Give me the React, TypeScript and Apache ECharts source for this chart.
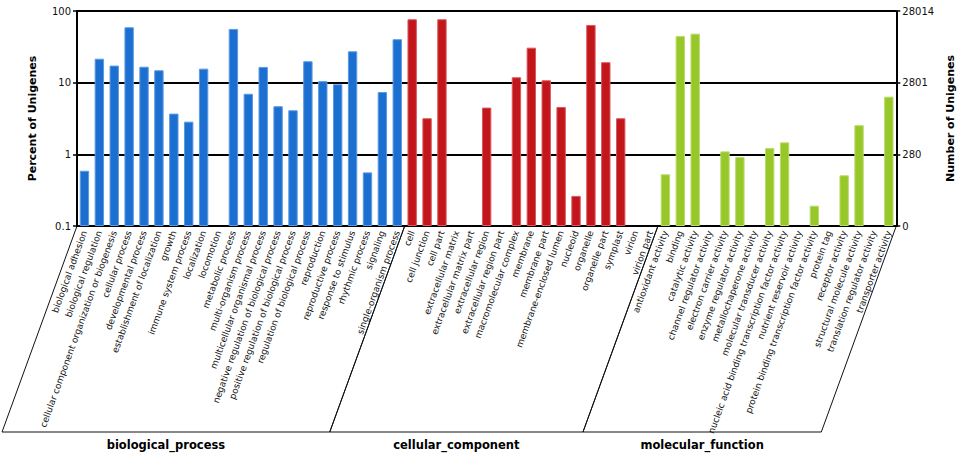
import React, { useEffect, useRef } from "react";
import * as echarts from "echarts";

const bpNames = [
  "biological adhesion",
  "biological regulation",
  "cellular component organization or biogenesis",
  "cellular process",
  "developmental process",
  "establishment of localization",
  "growth",
  "immune system process",
  "localization",
  "locomotion",
  "metabolic process",
  "multi-organism process",
  "multicellular organismal process",
  "negative regulation of biological process",
  "positive regulation of biological process",
  "regulation of biological process",
  "reproduction",
  "reproductive process",
  "response to stimulus",
  "rhythmic process",
  "signaling",
  "single-organism process",
];
const bpValues = [
  0.59, 21.6, 17.3, 59.3, 16.7, 14.9, 3.7, 2.86, 15.7, 0, 56.2, 7.0, 16.6, 4.69,
  4.12, 19.9, 10.5, 9.5, 27.4, 0.56, 7.4, 40.4,
];

const ccNames = [
  "cell",
  "cell junction",
  "cell part",
  "extracellular matrix",
  "extracellular matrix part",
  "extracellular region",
  "extracellular region part",
  "macromolecular complex",
  "membrane",
  "membrane part",
  "membrane-enclosed lumen",
  "nucleoid",
  "organelle",
  "organelle part",
  "symplast",
  "virion",
  "virion part",
];
const ccValues = [
  76.7, 3.19, 76.7, 0, 0, 4.49, 0, 11.9, 30.8, 10.8, 4.58, 0.263, 63.9, 19.3,
  3.19, 0, 0,
];

const mfNames = [
  "antioxidant activity",
  "binding",
  "catalytic activity",
  "channel regulator activity",
  "electron carrier activity",
  "enzyme regulator activity",
  "metallochaperone activity",
  "molecular transducer activity",
  "nucleic acid binding transcription factor activity",
  "nutrient reservoir activity",
  "protein binding transcription factor activity",
  "protein tag",
  "receptor activity",
  "structural molecule activity",
  "translation regulator activity",
  "transporter activity",
];
const mfValues = [
  0.527, 44.9, 48.3, 0, 1.1, 0.92, 0, 1.22, 1.47, 0, 0.192, 0, 0.51, 2.55, 0,
  6.38,
];

const groupNames = ["biological_process", "cellular_component", "molecular_function"];
const groupColors = ["#1a6fd1", "#c3161b", "#98c72a"];
const groupBorders = ["#5d9ae2", "#d85a5e", "#b9dc6c"];

const leftTickLabels = ["0.1", "1", "10", "100"];
const rightTickLabels = ["0", "280", "2801", "28014"];

const FONT = "DejaVu Sans";

export default function App() {
  const ref = useRef<HTMLDivElement>(null);

  useEffect(() => {
    document.body.style.margin = "0";
    const chart = echarts.init(ref.current!, null, { renderer: "svg" });

    const groups = [
      { names: bpNames, values: bpValues },
      { names: ccNames, values: ccValues },
      { names: mfNames, values: mfValues },
    ];
    const categories: string[] = [];
    const data: any[] = [];
    const ranges: [number, number][] = [];
    groups.forEach((g, gi) => {
      const start = categories.length;
      g.names.forEach((n, i) => {
        categories.push(n);
        const v = g.values[i];
        data.push({
          value: v > 0 ? v : "-",
          itemStyle: {
            color: groupColors[gi],
            borderColor: groupBorders[gi],
            borderWidth: 1,
          },
        });
      });
      ranges.push([start, categories.length]);
    });

    const decade = (v: number) => Math.round(Math.log10(v)) + 1;

    const yCommon = {
      type: "log",
      logBase: 10,
      min: 0.1,
      max: 100,
      startValue: 0.1,
      nameLocation: "middle",
      nameRotate: 90,
      nameTextStyle: {
        fontFamily: FONT,
        fontWeight: "bold",
        fontSize: 11,
        color: "#000",
      },
      axisLine: { show: true, lineStyle: { color: "#000", width: 2 } },
      axisTick: { show: true, inside: false, length: 4, lineStyle: { color: "#000", width: 1.5 } },
    };

    chart.setOption({
      animation: false,
      grid: { left: 77, right: 58, top: 11, bottom: 228, containLabel: false },
      xAxis: {
        type: "category",
        data: categories,
        axisLine: { lineStyle: { color: "#000", width: 2 } },
        axisTick: { show: false },
        axisLabel: {
          interval: 0,
          rotate: 70,
          fontSize: 9,
          fontFamily: FONT,
          color: "#111",
          margin: 5,
        },
        splitLine: { show: false },
      },
      yAxis: [
        {
          ...yCommon,
          position: "left",
          name: "Percent of Unigenes",
          nameGap: 39,
          axisLabel: {
            formatter: (v: number) => leftTickLabels[decade(v)] ?? "",
            fontSize: 10,
            fontFamily: FONT,
            color: "#111",
            margin: 6,
          },
          splitLine: {
            show: true,
            showMinLine: false,
            showMaxLine: true,
            lineStyle: { color: "#000", width: 2 },
          },
        },
        {
          ...yCommon,
          position: "right",
          name: "Number of Unigenes",
          nameGap: 47,
          axisLabel: {
            formatter: (v: number) => rightTickLabels[decade(v)] ?? "",
            fontSize: 10,
            fontFamily: FONT,
            color: "#111",
            margin: 6,
          },
          splitLine: { show: false },
        },
      ],
      series: [
        {
          type: "bar",
          data,
          yAxisIndex: 0,
          barCategoryGap: "37%",
        },
      ],
    });

    // group brackets derived from the axis scale
    const c0 = chart.convertToPixel({ xAxisIndex: 0 }, 0) as number;
    const c1 = chart.convertToPixel({ xAxisIndex: 0 }, 1) as number;
    const band = c1 - c0;
    const axisY = chart.convertToPixel({ yAxisIndex: 0 }, 0.1) as number;
    const depth = 206;
    const dx = depth / Math.tan((70 * Math.PI) / 180);
    const bottomY = axisY + depth;

    const graphics: any[] = [];
    ranges.forEach(([s, e], gi) => {
      const xs = c0 - band / 2 + s * band;
      const xe = c0 - band / 2 + e * band;
      graphics.push({
        type: "polyline",
        shape: {
          points: [
            [xs, axisY],
            [xs - dx, bottomY],
            [xe - dx, bottomY],
            [xe, axisY],
          ],
        },
        style: { stroke: "#111", lineWidth: 1, fill: null },
        silent: true,
      });
      graphics.push({
        type: "text",
        x: (xs + xe) / 2 - dx,
        y: bottomY + 13,
        style: {
          text: groupNames[gi],
          fontFamily: FONT,
          fontWeight: "bold",
          fontSize: 11.5,
          fill: "#000",
          align: "center",
          verticalAlign: "middle",
        },
        silent: true,
      });
    });
    chart.setOption({ graphic: graphics });

    return () => chart.dispose();
  }, []);

  return <div ref={ref} style={{ width: 964, height: 454 }} />;
}
